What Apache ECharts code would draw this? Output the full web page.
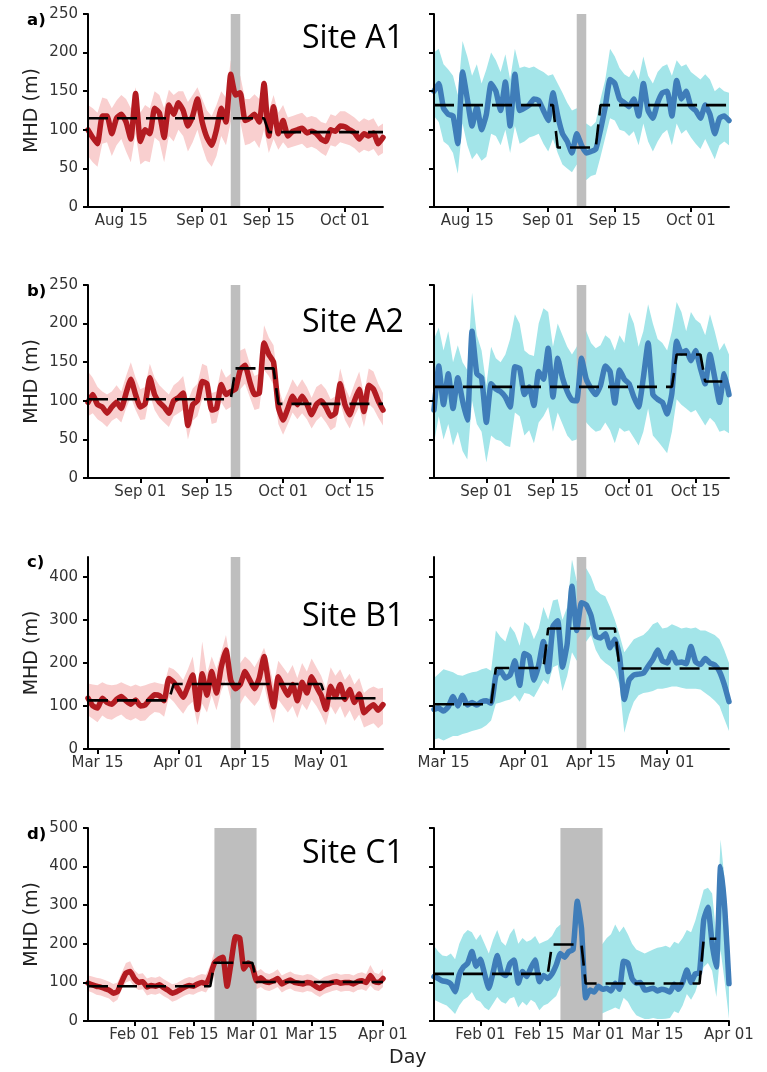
<!DOCTYPE html>
<html>
<head>
<meta charset="utf-8">
<title>MHD by site</title>
<script src="https://cdn.jsdelivr.net/npm/echarts@6.0.0/dist/echarts.min.js"></script>
<style>
    html, body { margin: 0; padding: 0; background: #fff; }
    #myChart { width: 767px; height: 1072px; }
</style>
</head>
<body>
<div id="myChart"></div>
<script>
// x values are days counted from the left end of each row's axis
// row a starts 2019-08-08, row b 2019-08-21, row c 2019-03-13, row d 2019-01-21

// row a, Site A1
var aL_mhd = [100,90,82,118,118,95,115,120,110,88,147,85,100,95,128,122,90,132,120,135,125,105,118,140,110,90,80,100,128,110,172,145,148,112,115,120,110,160,92,130,95,112,92,98,100,102,96,98,95,88,85,100,98,105,104,100,96,88,95,92,96,82,90];
var aL_hi = [132,128,122,142,140,128,138,145,140,128,155,122,132,128,150,145,128,152,145,150,150,136,145,155,140,125,118,132,150,142,190,168,170,140,140,146,140,165,125,145,122,132,116,118,120,122,116,118,116,110,108,120,118,124,124,120,116,110,115,112,115,104,108];
var aL_lo = [66,58,52,82,84,66,80,88,72,58,95,55,60,58,90,85,58,92,85,100,92,72,84,100,78,60,52,66,92,80,110,108,110,80,82,86,76,100,70,88,74,84,76,78,80,82,76,78,75,70,66,80,78,84,82,80,76,70,74,72,75,66,70];
var aL_step = [[0,115],[37,115],[38,97],[62,97]];

var aR_mhd = [150,160,128,120,118,82,175,140,105,130,100,120,160,150,125,162,105,172,125,128,132,140,138,125,112,148,118,95,85,70,95,80,70,72,75,100,130,165,160,140,135,130,140,118,160,125,115,135,148,150,118,164,140,150,130,125,115,132,120,95,115,118,112];
var aR_hi = [200,205,185,178,170,145,215,195,170,185,160,178,200,190,175,198,165,205,180,182,180,182,178,175,170,172,160,148,135,125,128,118,108,104,110,140,165,205,195,180,172,168,178,165,195,170,160,175,182,185,170,190,182,185,175,170,165,172,165,150,155,150,148];
var aR_lo = [118,110,85,80,70,43,108,80,62,70,60,65,95,92,80,100,70,105,82,85,90,92,95,82,72,88,70,55,50,45,55,38,35,40,42,65,90,115,112,100,98,92,98,80,108,85,72,85,95,100,80,108,95,100,90,82,75,88,75,62,80,85,80];
var aR_step = [[0,132],[25,132],[26,77],[34,77],[35,132],[62,132]];

// row b, Site A2
var bL_mhd = [98,108,95,92,84,92,98,90,110,128,108,92,96,130,108,98,92,84,100,104,110,68,95,100,125,122,88,90,121,108,112,115,140,146,125,108,110,175,160,150,92,75,90,106,95,106,96,82,95,100,92,80,84,122,95,82,100,115,86,120,115,100,88];
var bL_hi = [138,130,118,112,108,112,120,112,132,150,130,115,118,148,130,120,114,108,120,125,132,100,116,122,148,145,110,112,142,130,135,140,165,168,148,132,135,198,182,172,118,98,112,128,118,128,118,104,118,122,115,102,106,142,118,104,122,138,108,142,138,122,110];
var bL_lo = [80,84,76,72,66,74,78,72,90,105,88,75,76,108,88,78,72,66,80,84,88,50,74,80,102,100,70,72,98,88,92,96,115,122,105,88,90,140,132,120,70,56,70,85,76,84,76,64,74,80,72,62,66,98,75,64,80,92,66,96,90,78,68];
var bL_step = [[0,102],[30,102],[31,142],[39,142],[40,96],[62,96]];

var bR_mhd = [88,145,95,135,90,130,100,75,190,135,130,72,122,115,112,105,92,144,142,108,118,94,138,128,168,105,155,130,112,101,100,155,128,116,108,120,145,138,97,140,128,122,105,92,130,175,108,102,98,83,110,177,162,165,152,165,142,122,160,130,98,135,108];
var bR_hi = [180,195,165,190,150,172,150,140,240,185,165,120,170,155,150,160,180,212,200,165,160,158,200,220,215,170,200,185,170,160,170,205,190,175,168,172,185,180,165,185,175,215,200,170,190,225,200,180,175,165,190,228,215,190,215,205,200,185,212,190,165,175,160];
var bR_lo = [45,80,50,70,42,60,35,24,100,70,60,20,55,50,48,42,40,85,80,55,62,45,72,80,92,60,85,70,55,48,50,88,72,65,60,62,72,62,45,65,60,62,52,42,60,90,55,48,40,32,60,102,95,90,85,88,78,68,78,72,60,62,58];
var bR_step = [[0,118],[50,118],[51,160],[56,160],[57,125],[62,125]];

// row c, Site B1
var cL_mhd = [118,100,95,118,108,104,115,122,112,104,114,100,102,116,126,124,112,164,155,138,120,145,172,92,175,125,180,130,190,230,160,140,150,180,160,140,165,215,150,98,168,145,125,150,112,155,130,168,145,125,92,146,122,150,115,138,108,128,84,95,103,90,103];
var cL_hi = [152,150,148,155,150,148,150,155,150,145,150,145,148,152,155,152,150,190,185,175,160,185,215,140,250,175,215,185,225,265,200,185,200,215,205,190,210,235,200,150,205,190,175,195,165,200,180,210,190,170,140,190,170,185,160,175,150,165,130,140,145,140,142];
var cL_lo = [78,70,62,78,70,68,75,80,70,66,72,65,66,78,86,84,75,120,110,95,82,100,110,55,105,85,125,90,135,160,115,100,105,125,112,100,115,150,100,60,115,100,85,100,72,105,90,115,100,80,55,100,80,100,72,90,65,80,50,55,60,48,58];
var cL_step = [[0,113],[17,113],[18,151],[49,151],[50,118],[62,118]];

var cR_mhd = [92,95,88,98,122,100,125,102,108,102,110,112,106,170,182,165,172,205,148,222,215,160,195,250,180,285,298,190,245,378,275,340,335,310,262,258,268,235,255,215,115,160,172,174,176,192,208,230,205,200,224,200,202,198,238,202,196,210,200,195,180,150,110];
var cR_hi = [165,175,185,182,178,172,170,175,178,180,185,188,182,275,260,250,285,270,240,295,285,255,280,330,300,345,348,300,330,440,390,375,420,400,370,360,355,330,300,265,225,240,255,260,265,275,290,295,280,282,290,285,280,282,280,282,275,275,270,265,255,230,200];
var cR_lo = [22,25,20,25,30,30,35,38,42,45,48,55,66,105,108,112,115,125,110,130,128,120,140,160,150,190,195,135,170,225,205,230,250,265,230,210,200,192,180,150,38,80,110,125,130,132,135,140,140,142,145,145,142,140,140,140,138,130,122,112,100,70,42];
var cR_step = [[0,104],[12,104],[13,188],[23,188],[24,280],[38,280],[39,187],[62,187]];

// row d, Site C1
var dL_mhd = [98,94,90,88,84,80,72,76,102,124,128,110,100,102,88,92,90,94,86,80,72,76,82,88,92,90,96,100,96,118,150,160,165,90,155,218,215,135,150,140,104,112,102,100,104,110,96,102,106,100,98,96,100,98,90,84,92,96,100,102,98,100,100,96,102,104,100,118,102,100,110];
var dL_hi = [118,115,112,110,106,102,96,100,125,150,155,132,122,124,110,114,112,116,108,102,95,98,104,110,114,112,118,122,120,145,180,190,192,130,195,255,248,170,180,170,128,135,125,122,126,134,118,124,128,122,120,118,122,120,112,106,114,118,122,124,120,122,122,118,124,126,122,145,125,122,135];
var dL_lo = [78,74,68,66,62,58,48,55,82,100,104,88,80,82,66,70,68,72,64,58,50,54,60,66,70,68,74,78,74,92,115,125,130,60,115,170,165,100,115,108,82,88,80,78,82,88,74,80,84,78,76,74,78,76,68,62,70,74,78,80,76,78,78,74,80,82,78,92,80,78,88];
var dL_step = [[0,90],[29,90],[30,151],[39,151],[40,101],[70,101]];

var dR_mhd = [115,110,104,102,96,76,120,140,150,180,142,160,122,85,125,170,125,118,148,158,98,128,115,138,158,102,118,110,122,145,175,165,180,185,310,240,60,80,75,90,82,85,78,98,82,155,150,110,98,100,80,82,85,78,82,80,75,95,82,100,132,100,122,125,262,295,200,140,400,290,97];
var dR_hi = [195,180,170,168,175,160,200,225,236,230,210,225,200,175,210,236,205,195,225,240,200,215,205,210,220,200,205,210,220,240,250,245,265,300,380,330,220,190,180,195,200,215,225,250,230,245,225,200,185,180,175,180,185,190,192,195,190,205,200,215,236,230,260,300,340,345,330,220,470,360,220];
var dR_lo = [55,50,45,40,30,18,40,55,62,75,55,50,35,28,45,62,50,45,58,62,35,50,40,55,48,28,40,45,55,65,90,100,95,105,140,90,25,5,2,15,20,25,30,35,30,60,50,30,15,10,5,5,8,5,5,6,8,25,20,40,70,55,75,110,140,150,130,62,184,100,6];
var dR_step = [[0,122],[27,122],[28,198],[35,198],[36,97],[63,97],[64,213],[67,213]];

// axis ticks
var a_tickDays = [7, 24, 38, 54];
var a_tickLabels = ['Aug 15', 'Sep 01', 'Sep 15', 'Oct 01'];
var b_tickDays = [11, 25, 41, 55];
var b_tickLabels = ['Sep 01', 'Sep 15', 'Oct 01', 'Oct 15'];
var c_tickDays = [2, 19, 33, 49];
var c_tickLabels = ['Mar 15', 'Apr 01', 'Apr 15', 'May 01'];
var d_tickDays = [11, 25, 39, 53, 70];
var d_tickLabels = ['Feb 01', 'Feb 15', 'Mar 01', 'Mar 15', 'Apr 01'];

var a_yTicks = [0, 50, 100, 150, 200, 250];
var b_yTicks = [0, 50, 100, 150, 200, 250];
var c_yTicks = [0, 100, 200, 300, 400];
var d_yTicks = [0, 100, 200, 300, 400, 500];

// event window shown in grey (days)
var a_event = [30, 32];
var b_event = [30, 32];
var c_event = [30, 32];
var d_event = [30, 40];

var siteNames = ['Site A1', 'Site A2', 'Site B1', 'Site C1'];
var panelTags = ['a)', 'b)', 'c)', 'd)'];


var rows = [
    {top: 14, height: 193, yMax: 250, yTicks: a_yTicks, xMax: 62, ticks: a_tickDays, labels: a_tickLabels, event: a_event, siteY: 38, tagY: 20,
        left: {mhd: aL_mhd, lo: aL_lo, hi: aL_hi, step: aL_step}, right: {mhd: aR_mhd, lo: aR_lo, hi: aR_hi, step: aR_step}},
    {top: 285, height: 193, yMax: 250, yTicks: b_yTicks, xMax: 62, ticks: b_tickDays, labels: b_tickLabels, event: b_event, siteY: 322, tagY: 291,
        left: {mhd: bL_mhd, lo: bL_lo, hi: bL_hi, step: bL_step}, right: {mhd: bR_mhd, lo: bR_lo, hi: bR_hi, step: bR_step}},
    {top: 557, height: 192, yMax: 446, yTicks: c_yTicks, xMax: 62, ticks: c_tickDays, labels: c_tickLabels, event: c_event, siteY: 616, tagY: 562,
        left: {mhd: cL_mhd, lo: cL_lo, hi: cL_hi, step: cL_step}, right: {mhd: cR_mhd, lo: cR_lo, hi: cR_hi, step: cR_step}},
    {top: 828, height: 193, yMax: 500, yTicks: d_yTicks, xMax: 70, ticks: d_tickDays, labels: d_tickLabels, event: d_event, siteY: 853, tagY: 834,
        left: {mhd: dL_mhd, lo: dL_lo, hi: dL_hi, step: dL_step}, right: {mhd: dR_mhd, lo: dR_lo, hi: dR_hi, step: dR_step}}
];

var sides = [
    {key: 'left', x: 88, line: '#B31B21', band: '#F9CFCF', showY: true},
    {key: 'right', x: 434, line: '#3F7DB9', band: '#A3E5E9', showY: false}
];

var FONT = 'DejaVu Sans';


function to_pairs(values) {
    var out = [];
    for (var i = 0; i < values.length; i++) {
        out.push([i, values[i]]);
    }
    return out;
}

function band_rows(lo, hi) {
    var out = [];
    for (var i = 0; i < lo.length; i++) {
        out.push([i, lo[i], hi[i]]);
    }
    return out;
}

// one polygon per panel: upper edge left->right, lower edge back
function render_band(color) {
    return function (params, api) {
        if (params.dataIndex !== 0) {
            return null;
        }
        var n = params.dataInsideLength;
        var upper = [], lower = [];
        for (var i = 0; i < n; i++) {
            var x = api.value(0, i);
            upper.push(api.coord([x, api.value(2, i)]));
            lower.unshift(api.coord([x, api.value(1, i)]));
        }
        return {
            type: 'polygon',
            shape: {points: upper.concat(lower)},
            style: {fill: color}
        };
    };
}


function create_image() {
    var myChart = echarts.init(document.getElementById('myChart'));
    var grids = [], xAxes = [], yAxes = [], series = [], graphics = [];
    var k = 0;

    for (var r = 0; r < rows.length; r++) {
        var row = rows[r];
        for (var s = 0; s < sides.length; s++) {
            var side = sides[s];
            var p = row[side.key];
            (function (row, side) {
                grids.push({left: side.x, top: row.top, width: 295, height: row.height, outerBoundsMode: 'none'});
                xAxes.push({
                    type: 'value', gridIndex: k, min: 0, max: row.xMax, z: 5,
                    splitLine: {show: false},
                    axisLine: {lineStyle: {color: '#000', width: 2}},
                    axisTick: {length: 5, lineStyle: {color: '#000', width: 2}, customValues: row.ticks},
                    axisLabel: {
                        color: '#333', fontFamily: FONT, fontSize: 15, margin: 7,
                        customValues: row.ticks,
                        formatter: function (v) {
                            var i = row.ticks.indexOf(v);
                            return i < 0 ? '' : row.labels[i];
                        }
                    }
                });
                yAxes.push({
                    type: 'value', gridIndex: k, min: 0, max: row.yMax, z: 5,
                    name: side.showY ? 'MHD (m)' : '',
                    nameLocation: 'middle', nameGap: 46, nameRotate: 90,
                    nameTextStyle: {color: '#222', fontFamily: FONT, fontSize: 19},
                    splitLine: {show: false},
                    axisLine: {show: true, lineStyle: {color: '#000', width: 2}},
                    axisTick: {show: true, length: 5, lineStyle: {color: '#000', width: 2}, customValues: row.yTicks},
                    axisLabel: {show: side.showY, color: '#333', fontFamily: FONT, fontSize: 15, margin: 10, customValues: row.yTicks}
                });
            })(row, side);

            series.push({
                type: 'custom', xAxisIndex: k, yAxisIndex: k, z: 1, silent: true,
                data: band_rows(p.lo, p.hi),
                encode: {x: 0, y: [1, 2]},
                renderItem: render_band(side.band)
            });
            series.push({
                type: 'line', xAxisIndex: k, yAxisIndex: k,
                data: to_pairs(p.mhd), symbol: 'none', silent: true, z: 3,
                smooth: 0.15,
                lineStyle: {color: side.line, width: 5.5, join: 'round', cap: 'round'},
                markArea: {
                    silent: true, z: 2,
                    itemStyle: {color: '#BEBEBE', opacity: 1},
                    data: [[{xAxis: row.event[0]}, {xAxis: row.event[1]}]]
                }
            });
            series.push({
                type: 'line', xAxisIndex: k, yAxisIndex: k,
                data: p.step, symbol: 'none', silent: true, z: 4,
                lineStyle: {color: '#000', width: 2.6, type: [20, 9]}
            });
            k++;
        }

        graphics.push({
            type: 'text', left: 302, top: row.siteY - 15, z: 10,
            style: {text: siteNames[r], fontFamily: 'Open Sans', fontSize: 32, fill: '#000'}
        });
        graphics.push({
            type: 'text', left: 27, top: row.tagY - 8, z: 10,
            style: {text: panelTags[r], fontFamily: FONT, fontWeight: 'bold', fontSize: 16.5, fill: '#000'}
        });
    }

    graphics.push({
        type: 'text', left: 389, top: 1049, z: 10,
        style: {text: 'Day', fontFamily: FONT, fontSize: 19, fill: '#222'}
    });

    var option = {
        animation: false,
        backgroundColor: '#fff',
        grid: grids,
        xAxis: xAxes,
        yAxis: yAxes,
        series: series,
        graphic: graphics
    };
    myChart.setOption(option);
}

create_image();
</script>
</body>
</html>
